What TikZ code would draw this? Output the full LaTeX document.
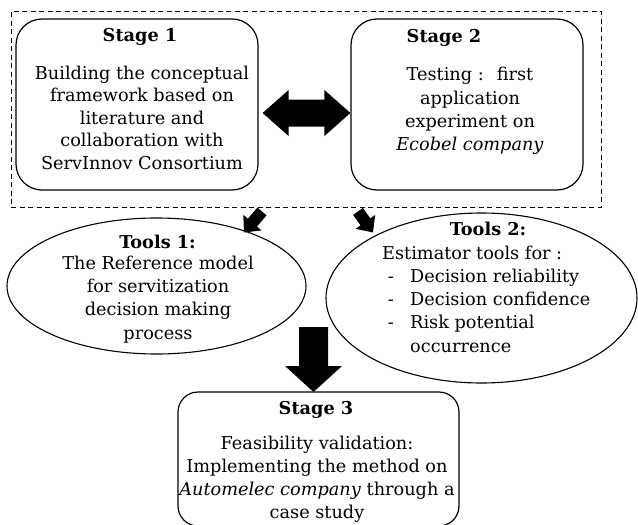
\documentclass[tikz,border=0pt]{standalone}
\usepackage{fontspec}
\setmainfont{DejaVu Serif}
\usetikzlibrary{shapes.geometric,calc}
% block arrow: #1 start coordinate, #2 angle, #3 length, #4 shaft width, #5 head width, #6 head length
\newcommand\blockarr[6]{\fill[shift={(#1)}, rotate=#2, x=1pt, y=1pt] (0,-#4/2) -- (#3-#6,-#4/2) -- (#3-#6,-#5/2) -- (#3,0) -- (#3-#6,#5/2) -- (#3-#6,#4/2) -- (0,#4/2) -- cycle;}
\begin{document}
\begin{tikzpicture}[x=1pt,y=-1pt,
  font=\fontsize{17.7}{22.5}\selectfont,
  stagebox/.style={draw, line width=1.2pt, rounded corners=26pt, inner sep=0pt},
  oval/.style={draw, ellipse, line width=1.1pt, inner sep=0pt},
  txt/.style={align=center, inner sep=0pt},
  ttl/.style={inner sep=0pt, anchor=base, font=\fontsize{17.7}{22.5}\selectfont\bfseries}]
\useasboundingbox (0,0) rectangle (638,525);
\clip (0,0) rectangle (638,525);

% dashed group
\node[draw, dashed, dash pattern=on 5pt off 3.5pt, line width=0.9pt, minimum width=590pt, minimum height=196pt, inner sep=0pt] (grp) at (306,109) {};

% stage boxes
\node[stagebox, minimum width=242pt, minimum height=171pt] (s1) at (137,104.5) {};
\node[stagebox, minimum width=232pt, minimum height=171pt] (s2) at (467,104.5) {};
\node[stagebox, rounded corners=20pt, minimum width=281pt, minimum height=134pt] (s3) at (318.5,459) {};

% ellipses
\node[oval, minimum width=299pt, minimum height=136pt] (t1) at (156.5,286) {};
\node[oval, minimum width=311pt, minimum height=170pt] (t2) at (481.5,298) {};

% texts
\node[ttl] (s1t) at (140,41.7) {Stage 1};
\node[txt] (s1b) at (142,117.5) {Building the conceptual\\framework based on\\literature and\\collaboration with\\ServInnov Consortium};

\node[ttl] (s2t) at (444,42.5) {Stage 2};
\node[txt, font=\fontsize{17.7}{23.3}\selectfont] (s2b) at (470,111) {Testing : \ first\\application\\experiment on\\\textit{Ecobel company}};

\node[ttl] (t1t) at (157.5,248) {Tools 1:};
\node[txt, font=\fontsize{17.7}{23.2}\selectfont] (t1b) at (158,299.5) {The Reference model\\for servitization\\decision making\\process};

\node[ttl] (t2t) at (488,235.5) {Tools 2:};
\node[inner sep=0pt, align=left, anchor=west, font=\fontsize{17.7}{23.2}\selectfont] (t2b) at (382,299) {Estimator tools for :\\
\makebox[28pt][l]{\ -}Decision reliability\\
\makebox[28pt][l]{\ -}Decision confidence\\
\makebox[28pt][l]{\ -}Risk potential\\
\hspace*{28pt}occurrence};

\node[ttl] (s3t) at (316,414) {Stage 3};
\node[txt, font=\fontsize{17.7}{23}\selectfont] (s3b) at (317,479.5) {Feasibility validation:\\Implementing the method on\\\textit{Automelec company} through a\\case study};

% double arrow between stage 1 and stage 2
\coordinate (da) at ([xshift=4pt,yshift=-8.5pt]s1.east);
\coordinate (db) at (s2.west |- da);
\fill (da) -- ++(26,-23) -- ++(0,9.5) -- ($(db)+(-26,-13.5)$) -- ++(0,-9.5) -- (db)
  -- ++(-26,23) -- ++(0,-9.5) -- ($(da)+(26,13.5)$) -- ++(0,9.5) -- cycle;

% small arrows from the group to the tools
\coordinate (a1) at ($(grp.south)+(-44,4)$);
\coordinate (a2) at ($(grp.south)+(52,4)$);
\blockarr{a1}{229.4}{27.7}{12}{24}{13}
\blockarr{a2}{305.5}{25.8}{12}{24}{13}

% big arrow to stage 3
\coordinate (bs) at (313.5,327);
\blockarr{bs}{270}{65}{29}{57}{26}
\end{tikzpicture}
\end{document}
